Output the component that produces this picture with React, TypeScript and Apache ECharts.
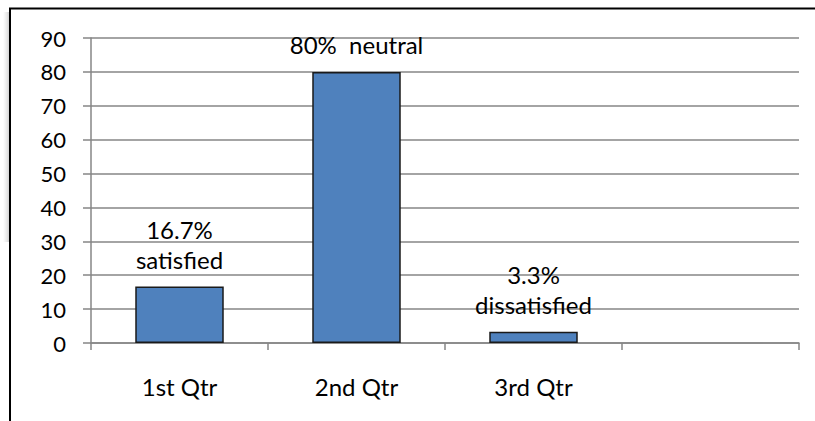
import React, { useEffect, useRef } from "react";
import * as echarts from "echarts";

const categories = ["1st Qtr", "2nd Qtr", "3rd Qtr", ""];
const values = [16.7, 80, 3.3, null];
const barLabels = ["16.7%\nsatisfied", "80%  neutral", "3.3%\ndissatisfied", ""];
const yTicks = { min: 0, max: 90, interval: 10 };

const FONT = "Lato";

export default function App() {
  const ref = useRef<HTMLDivElement>(null);
  useEffect(() => {
    if (!ref.current) return;
    const chart = echarts.init(ref.current, null, { renderer: "svg" });
    chart.setOption({
      animation: false,
      backgroundColor: "#ffffff",
      grid: { left: 91, right: 16, top: 38, bottom: 78, containLabel: false },
      graphic: [
        {
          type: "rect",
          shape: { x: 3, y: 12, width: 7, height: 230 },
          style: {
            fill: new echarts.graphic.LinearGradient(0, 0, 1, 0, [
              { offset: 0, color: "rgba(200,200,200,0)" },
              { offset: 1, color: "rgba(170,170,170,0.6)" },
            ]),
          },
          silent: true,
        },
        {
          type: "rect",
          shape: { x: 10, y: 8.5, width: 820, height: 430 },
          style: { fill: "none", stroke: "#000000", lineWidth: 2 },
          silent: true,
        },
      ],
      xAxis: {
        type: "category",
        data: categories,
        axisLine: { show: true, lineStyle: { color: "#868686", width: 1.5 } },
        axisTick: { show: true, length: 7, lineStyle: { color: "#868686", width: 1.5 } },
        axisLabel: { margin: 31, color: "#000", fontFamily: FONT, fontSize: 24 },
        splitLine: { show: false },
      },
      yAxis: {
        type: "value",
        min: yTicks.min,
        max: yTicks.max,
        interval: yTicks.interval,
        axisLine: { show: true, lineStyle: { color: "#868686", width: 1.5 } },
        axisTick: { show: true, length: 8, lineStyle: { color: "#868686", width: 1.5 } },
        axisLabel: { margin: 25, color: "#000", fontFamily: FONT, fontSize: 22 },
        splitLine: { show: true, lineStyle: { color: "#868686", width: 1.5 } },
      },
      series: [
        {
          type: "bar",
          data: values,
          barWidth: "50%",
          itemStyle: { color: "#4F81BD", borderColor: "#1a1a1a", borderWidth: 1.5 },
          label: {
            show: true,
            position: "top",
            distance: 12,
            color: "#000",
            fontFamily: FONT,
            fontSize: 24,
            lineHeight: 30,
            formatter: (p: any) => barLabels[p.dataIndex],
          },
        },
      ],
    });
    return () => chart.dispose();
  }, []);
  return <div ref={ref} style={{ width: 815, height: 421, position: "absolute", left: 0, top: 0 }} />;
}
